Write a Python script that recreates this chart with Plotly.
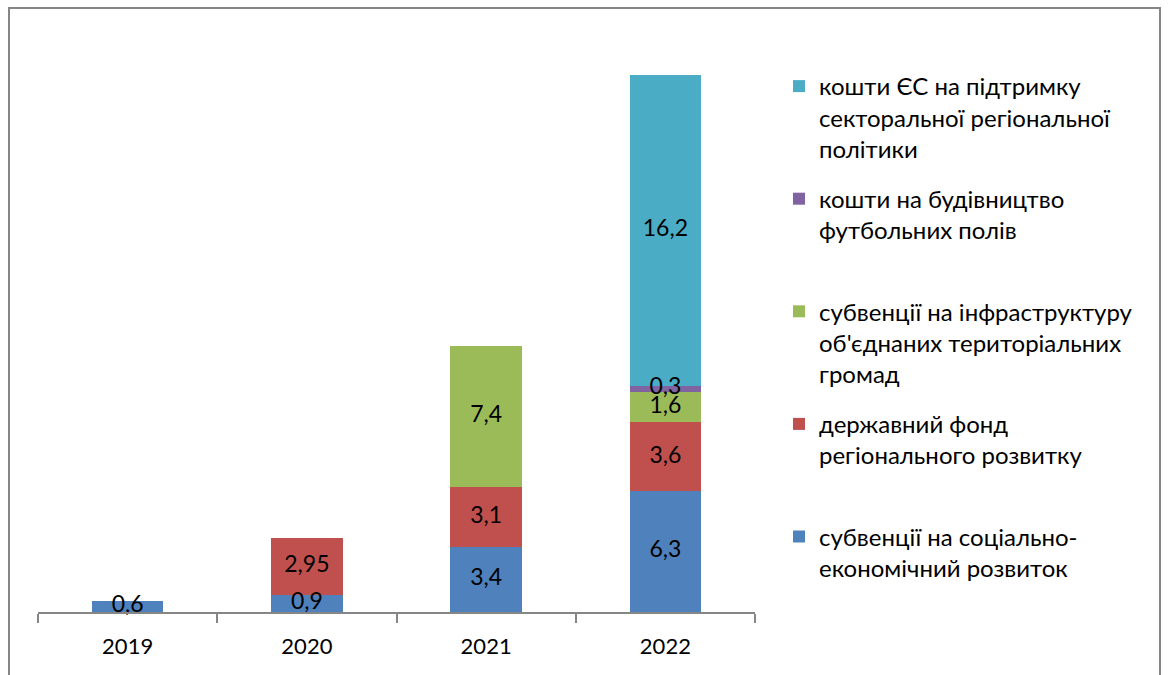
import plotly.graph_objects as go

years = ["2019", "2020", "2021", "2022"]

series_names = [
    "субвенції на соціально-<br>економічний розвиток",
    "державний фонд<br>регіонального розвитку",
    "субвенції на інфраструктуру<br>об'єднаних територіальних<br>громад",
    "кошти на будівництво<br>футбольних полів",
    "кошти ЄС на підтримку<br>секторальної регіональної<br>політики",
]

social_economic = [0.6, 0.9, 3.4, 6.3]
regional_fund = [None, 2.95, 3.1, 3.6]
community_infra = [None, None, 7.4, 1.6]
football_fields = [None, None, None, 0.3]
eu_sector_policy = [None, None, None, 16.2]

series_values = [social_economic, regional_fund, community_infra,
                 football_fields, eu_sector_policy]
colors = ["#4F81BD", "#C0504D", "#9BBB59", "#8064A2", "#4BACC6"]

FONT = "Lato, Carlito, Calibri, sans-serif"
W, H = 1168, 675
L, R, T, B = 38, 413, 37, 63

fig = go.Figure()
for i, (name, vals, col) in enumerate(zip(series_names, series_values, colors)):
    # pad two-line legend entries so every entry occupies the same height
    legend_name = name if name.count("<br>") == 2 else name + "<br> "
    fig.add_trace(go.Bar(
        x=years, y=vals, name=legend_name, legendgroup=f"g{i}",
        legendrank=100 - i,
        marker=dict(color=col, line=dict(width=0)),
        hoverinfo="x+y+name",
    ))

# value labels drawn above all bars, centred in each stacked segment
base = [0.0] * len(years)
for i, vals in enumerate(series_values):
    xs, ys, labels = [], [], []
    for j, v in enumerate(vals):
        if v is None:
            continue
        xs.append(years[j])
        ys.append(base[j] + v / 2)
        labels.append(f"{v:g}".replace(".", ","))
        base[j] += v
    fig.add_trace(go.Scatter(
        x=xs, y=ys, text=labels, mode="text", showlegend=False,
        textposition="middle center", cliponaxis=False, hoverinfo="skip",
        textfont=dict(family=FONT, size=23, color="black"),
    ))

pw = W - L - R
ph = H - T - B


def px_x(p):
    return (p - L) / pw


def px_y(p):
    return (H - B - p) / ph


fig.update_layout(
    width=W, height=H,
    margin=dict(l=L, r=R, t=T, b=B, pad=0),
    barmode="stack", bargap=0.6,
    separators=", ",
    paper_bgcolor="white", plot_bgcolor="white",
    font=dict(family=FONT, size=22, color="black"),
    showlegend=True,
    legend=dict(
        x=px_x(779), y=px_y(64), xanchor="left", yanchor="top",
        traceorder="grouped", tracegroupgap=16,
        valign="top", font=dict(family=FONT, size=24, color="black"),
        itemwidth=30, bgcolor="rgba(0,0,0,0)",
    ),
    xaxis=dict(
        type="category", showgrid=False, zeroline=False,
        showline=True, linecolor="#868686", linewidth=2,
        ticks="outside", tickson="boundaries", ticklen=9,
        tickcolor="#868686", tickwidth=2, ticklabelstandoff=14,
        tickfont=dict(family=FONT, size=22, color="black"),
    ),
    yaxis=dict(range=[0, 30], visible=False, showgrid=False, zeroline=False),
    shapes=[dict(
        type="rect", xref="paper", yref="paper",
        x0=px_x(9), x1=px_x(1160), y0=px_y(700), y1=px_y(8),
        line=dict(color="#868686", width=2), fillcolor="rgba(0,0,0,0)",
        layer="below",
    )],
)

fig.write_html("out.html")
